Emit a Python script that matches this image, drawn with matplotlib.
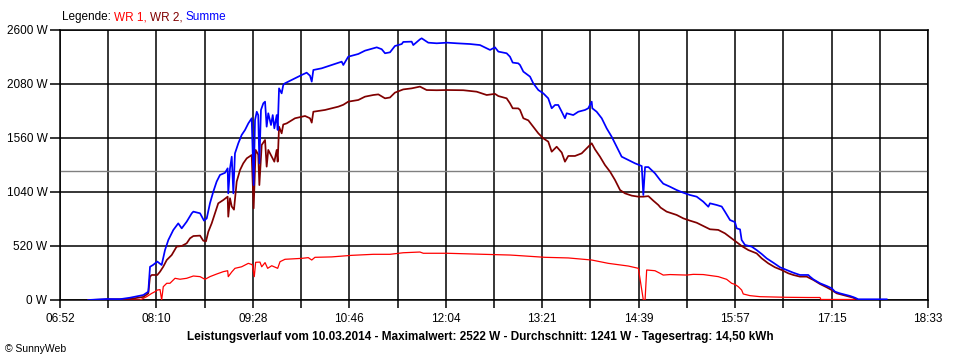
import matplotlib
matplotlib.use('Agg')
import matplotlib.pyplot as plt
import numpy as np

# time in minutes after midnight, power in W
t_sum = [434.9, 449.7, 460.5, 468.5, 479.3, 483.3, 484.7, 487.1, 490.6, 494.1,
         496.8, 499.5, 503.5, 507.5, 510.3, 514.3, 518.4, 519.7, 525.1, 528.3,
         530.5, 533.1, 535.8, 538.5, 541.2, 545.3, 547.4, 547.9, 549.3, 550.7,
         552.0, 553.3, 556.0, 558.7, 561.4, 564.1, 566.8, 568.4, 569.5, 570.9,
         572.1, 573.0, 574.3, 576.2, 577.6, 578.9, 580.2, 582.4, 583.8, 585.1,
         587.0, 587.8, 588.9, 591.0, 592.3, 593.7, 599.1, 607.2, 611.2, 613.9,
         615.3, 616.6, 623.3, 631.4, 639.5, 640.8, 644.8, 652.9, 658.3, 665.0,
         667.8, 671.8, 674.5, 678.5, 682.5, 688.0, 689.2, 696.0, 697.3, 702.7,
         704.1, 709.4, 716.2, 724.8, 732.4, 743.1, 751.2, 756.6, 759.3, 763.3,
         766.0, 772.7, 775.4, 777.6, 782.1, 783.5, 786.2, 791.6, 794.2, 798.3,
         802.3, 806.3, 809.1, 811.8, 814.4, 817.2, 819.8, 821.2, 826.5, 830.6,
         836.0, 838.6, 841.4, 841.9, 845.4, 849.5, 853.5, 857.5, 861.6, 865.6,
         871.0, 876.4, 881.8, 883.1, 884.5, 887.2, 892.5, 896.6, 899.2, 904.6,
         910.0, 915.4, 920.8, 926.2, 931.5, 935.6, 936.9, 942.3, 946.4, 949.0,
         953.1, 957.1, 958.5, 961.2, 962.5, 965.2, 970.6, 974.6, 978.7, 982.7,
         988.1, 993.5, 998.8, 1004.2, 1009.6, 1016.3, 1017.7, 1020.4, 1025.8, 1031.2,
         1035.2, 1037.9, 1041.9, 1050.0, 1054.0, 1056.7, 1079.6]
p_sum = [0, 10, 8, 22, 48, 80, 320, 337, 370, 337,
         481, 578, 674, 738, 690, 754, 835, 851, 835, 764,
         786, 931, 1043, 1140, 1204, 1225, 1268, 1027, 1268, 1380,
         1027, 1412, 1509, 1589, 1637, 1701, 1750, 1107, 1733, 1813,
         1780, 1316, 1830, 1894, 1910, 1669, 1798, 1685, 1781, 1653,
         1781, 1637, 2038, 1990, 2070, 2087, 2119, 2167, 2189, 2160,
         2103, 2215, 2231, 2263, 2295, 2263, 2343, 2369, 2401, 2424,
         2433, 2415, 2376, 2385, 2446, 2465, 2485, 2488, 2455, 2510,
         2520, 2478, 2472, 2478, 2472, 2465, 2455, 2424, 2408, 2433,
         2392, 2376, 2343, 2286, 2279, 2263, 2199, 2151, 2087, 2022,
         1990, 1942, 1846, 1878, 1878, 1813, 1750, 1798, 1781, 1813,
         1830, 1846, 1910, 1846, 1813, 1750, 1653, 1573, 1476, 1380,
         1348, 1316, 1290, 1011, 1280, 1280, 1220, 1156, 1120, 1091,
         1059, 1033, 1011, 995, 947, 898, 931, 915, 900, 851,
         770, 750, 690, 680, 578, 530, 514, 481, 443, 401,
         359, 315, 289, 263, 241, 241, 225, 199, 161, 135,
         113, 80, 64, 39, 22, 7, 7]

t_wr2 = [434.9, 468.5, 479.3, 483.3, 484.7, 486.1, 490.6, 492.8, 495.4, 498.2,
         502.2, 506.2, 510.3, 514.3, 517.0, 519.7, 525.1, 527.7, 529.9, 531.8,
         534.5, 537.2, 539.8, 543.9, 547.4, 547.9, 549.3, 550.7, 552.5, 554.7,
         557.4, 560.0, 562.8, 566.8, 568.4, 570.0, 572.1, 573.0, 574.9, 577.6,
         578.9, 580.2, 583.0, 585.1, 587.0, 587.8, 588.9, 591.0, 592.3, 595.1,
         601.8, 609.9, 613.9, 615.3, 616.6, 626.0, 636.8, 640.8, 644.8, 652.9,
         658.3, 665.0, 669.1, 674.5, 678.5, 682.5, 689.2, 696.0, 702.7, 708.1,
         716.2, 724.8, 737.7, 748.5, 756.6, 763.3, 766.0, 772.7, 775.4, 777.6,
         782.1, 783.5, 786.2, 790.2, 794.2, 798.3, 802.3, 806.3, 809.1, 813.1,
         817.2, 819.8, 822.5, 827.9, 833.3, 837.4, 841.4, 844.1, 848.1, 852.1,
         856.2, 860.2, 864.3, 868.3, 873.7, 879.1, 883.1, 887.2, 891.2, 895.2,
         897.0, 901.9, 910.0, 915.4, 920.8, 926.2, 931.5, 936.9, 943.6, 949.0,
         954.4, 959.0, 962.5, 967.9, 974.6, 978.7, 984.0, 989.4, 994.8, 1000.2,
         1004.2, 1009.6, 1015.0, 1020.4, 1025.8, 1031.2, 1035.2, 1039.3, 1047.3, 1052.7,
         1055.9]
p_wr2 = [0, 10, 30, 64, 225, 241, 241, 273, 321, 385,
         433, 514, 520, 546, 594, 616, 620, 571, 565, 658,
         738, 835, 931, 963, 995, 802, 980, 900, 870, 1140,
         1252, 1316, 1364, 1396, 883, 1445, 1400, 1107, 1493, 1541,
         1284, 1445, 1380, 1332, 1445, 1332, 1669, 1605, 1690, 1701,
         1750, 1772, 1750, 1708, 1813, 1830, 1862, 1880, 1910, 1926,
         1958, 1974, 1980, 1942, 1950, 1997, 2028, 2038, 2055, 2022,
         2020, 2022, 2020, 2006, 1974, 1985, 1964, 1942, 1894, 1846,
         1845, 1830, 1750, 1730, 1669, 1605, 1557, 1525, 1428, 1476,
         1420, 1332, 1387, 1387, 1412, 1461, 1509, 1450, 1380, 1300,
         1236, 1156, 1059, 1027, 1005, 995, 995, 1000, 956, 915,
         890, 851, 819, 786, 764, 744, 713, 681, 675, 642,
         594, 552, 520, 481, 449, 401, 353, 315, 289, 257,
         241, 225, 225, 193, 154, 122, 96, 64, 39, 22,
         0]

t_wr1 = [434.9, 476.6, 482.0, 486.1, 488.7, 490.6, 492.8, 494.1, 495.4, 498.2,
         500.8, 504.9, 508.9, 514.3, 519.7, 525.1, 529.1, 533.1, 538.5, 543.9,
         547.4, 547.9, 550.7, 553.3, 558.7, 564.1, 567.3, 568.9, 570.0, 573.5,
         574.9, 577.6, 579.7, 583.0, 587.8, 589.7, 593.7, 607.2, 612.5, 615.3,
         617.9, 631.4, 647.6, 665.0, 678.5, 689.2, 702.7, 705.4, 724.8, 753.9,
         775.4, 779.5, 803.7, 822.5, 841.4, 854.8, 871.0, 879.1, 883.1, 884.5,
         885.8, 892.5, 896.6, 899.2, 904.6, 918.1, 923.4, 931.5, 943.6, 950.4,
         954.4, 957.1, 959.8, 962.5, 963.8, 969.2, 977.3, 998.8, 1016.3, 1025.8,
         1026.5, 1055.4]
p_wr1 = [0, 0, 32, 64, 80, 96, 100, 0, 128, 161,
         161, 209, 200, 209, 231, 225, 199, 225, 250, 273,
         282, 225, 270, 305, 320, 353, 340, 225, 363, 365,
         320, 360, 305, 330, 305, 369, 392, 401, 408, 385,
         411, 415, 430, 440, 440, 455, 462, 450, 450, 440,
         433, 430, 411, 405, 385, 353, 327, 305, 0, 0,
         289, 282, 257, 240, 245, 240, 247, 245, 225, 199,
         161, 150, 128, 96, 58, 42, 32, 26, 24, 24,
         5, 5]

average = 1241
tick_labels = ['06:52', '08:10', '09:28', '10:46', '12:04',
               '13:21', '14:39', '15:57', '17:15', '18:33']
title = ('Leistungsverlauf vom 10.03.2014 - Maximalwert: 2522 W - '
         'Durchschnitt: 1241 W - Tagesertrag: 14,50 kWh')

plt.rcParams['font.family'] = ['Liberation Sans', 'DejaVu Sans']
plt.rcParams['font.size'] = 8

fig = plt.figure(figsize=(9.6, 3.6), dpi=100)
ax = fig.add_axes([60 / 960, 1 - 300 / 360, 868 / 960, 270 / 360])

t0, t1 = 412, 1113
ax.set_xlim(t0, t1)
ax.set_ylim(0, 2600)

grid_x = np.linspace(t0, t1, 19)
for gx in grid_x:
    ax.axvline(gx, color='black', lw=1.1, zorder=1)
for gy in range(0, 2601, 520):
    ax.axhline(gy, color='black', lw=1.1, zorder=1)
ax.axhline(average, color='#808080', lw=1.0, zorder=1)

ax.plot(t_wr1, p_wr1, color='#ff0000', lw=0.9, zorder=3)
ax.plot(t_wr2, p_wr2, color='#800000', lw=1.25, zorder=4)
ax.plot(t_sum, p_sum, color='#0000ff', lw=1.25, zorder=5)

ax.set_xticks(grid_x)
ax.set_xticklabels([tick_labels[i // 2] if i % 2 == 0 else '' for i in range(19)])
ax.set_yticks(range(0, 2601, 520))
ax.set_yticklabels(['%d W' % v for v in range(0, 2601, 520)])
ax.tick_params(axis='x', length=6, width=1.1, pad=3, labelsize=8.5)
ax.tick_params(axis='y', length=7, width=1.1, pad=2, labelsize=8.5)
for s in ax.spines.values():
    s.set_linewidth(1.1)
ax.set_facecolor('white')

fig.text(480 / 960, 1 - 337 / 360, title, ha='center', va='center',
         fontweight='bold', fontsize=8.5)
fig.text(5 / 960, 1 - 349 / 360, '\u00a9 SunnyWeb', ha='left', va='center', fontsize=7.5)

# legend line with coloured parts
renderer = fig.canvas.get_renderer()
parts = [('Legende: ', 'black'), ('WR 1, ', '#ff0000'),
         ('WR 2, ', '#800000'), ('Summe', '#0000ff')]
x = 62 / 960
for txt, col in parts:
    t = fig.text(x, 1 - 17 / 360, txt, color=col, ha='left', va='center', fontsize=8.5)
    bb = t.get_window_extent(renderer)
    x = x + bb.width / fig.bbox.width

fig.savefig('out.png', dpi=100)
